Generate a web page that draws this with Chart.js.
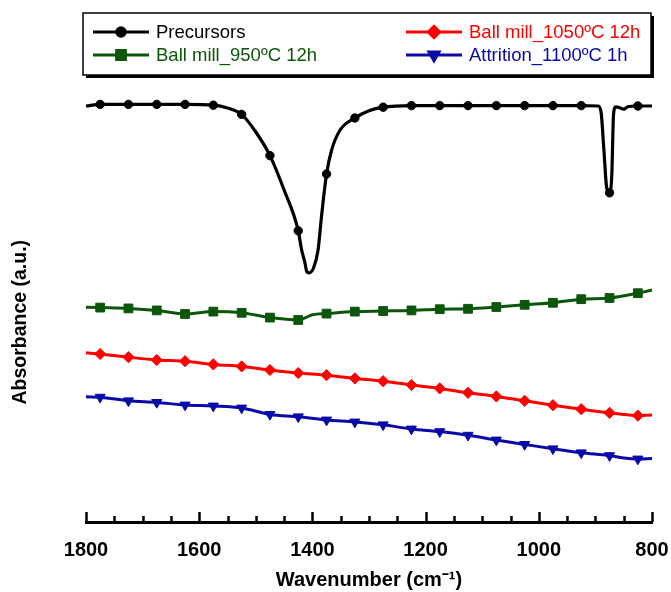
<!DOCTYPE html>
<html>
<head>
<meta charset="utf-8">
<script src="https://cdn.jsdelivr.net/npm/chart.js@4.4.1/dist/chart.umd.min.js"></script>
<style>
  html, body { margin: 0; padding: 0; background: #fff; }
  #wrap { width: 671px; height: 592px; }
</style>
</head>
<body>
<div id="wrap"><canvas id="ftir" width="671" height="592"></canvas></div>
<script>
// ── FTIR spectra (absorbance in arbitrary units) ───────────────────────────────
const precursorWn  = [1800,1775,1725,1675,1625,1575,1550,1525,1500,1475,1450,1425,1419,1413,1410,1406,1398,1390,1384,1375,1366,1351,1325,1300,1275,1225,1175,1125,1075,1025,975,925,895,890,885,880,875,871,868,864,856,850,843,825,800];
const precursorAbs = [104.0,104.4,104.4,104.4,104.4,104.2,103.5,101.9,97.5,91.6,83.0,72.8,68.0,64.7,62.6,62.3,63.5,68.0,76.3,87.0,93.0,98.0,101.0,102.8,103.7,104.1,104.1,104.1,104.1,104.1,104.1,104.1,104.0,102.5,93.0,83.5,82.3,86.8,101.8,103.8,103.5,103.2,103.8,104.0,104.0];

const bm950Wn  = [1800,1775,1725,1675,1625,1575,1525,1475,1425,1400,1375,1325,1275,1225,1175,1125,1075,1025,975,925,875,825,800];
const bm950Abs = [53.7,53.6,53.4,52.9,52.0,52.6,52.3,51.1,50.5,51.8,52.1,52.6,52.75,52.9,53.2,53.3,53.75,54.3,54.8,55.7,56.0,57.2,58.0];

const bm1050Wn  = [1800,1775,1725,1675,1625,1575,1525,1475,1425,1375,1325,1275,1225,1175,1125,1075,1025,975,925,875,825,800];
const bm1050Abs = [42.3,42.0,41.2,40.5,40.2,39.4,38.9,38.0,37.25,36.7,35.9,35.2,34.25,33.4,32.3,31.4,30.3,29.2,28.2,27.3,26.6,26.75];

const attritionWn  = [1800,1775,1725,1675,1625,1575,1525,1475,1425,1375,1325,1275,1225,1175,1125,1075,1025,975,925,875,850,825,800];
const attritionAbs = [31.3,31.2,30.3,29.9,29.25,29.0,28.5,26.9,26.3,25.5,25.0,24.3,23.25,22.6,21.7,20.5,19.4,18.3,17.3,16.6,16.0,15.75,15.9];

const seriesNames = ['Precursors', 'Ball mill_950ºC 12h', 'Ball mill_1050ºC 12h', 'Attrition_1100ºC 1h'];

const xMin = 800, xMax = 1800, xMajorStep = 200, xMinorStep = 50;
const yMin = 0, yMax = 108;
const markerStart = 1775, markerStep = 50;   // symbols every 50 cm-1

const FONT = "'Liberation Sans', Arial, Helvetica, sans-serif";

const styles = [
  { color: '#000000', style: 'circle',   radius: 4.2, rotation: 0,   width: 3.2 },
  { color: '#0b560b', style: 'rect',     radius: 6.2, rotation: 0,   width: 3   },
  { color: '#ff0000', style: 'rectRot',  radius: 5.6, rotation: 0,   width: 3   },
  { color: '#0a0aa8', style: 'triangle', radius: 5.8, rotation: 180, width: 3   }
];

const toPoints = (xs, ys) => xs.map((x, i) => ({ x: x, y: ys[i] }));
const isMarker = x => (markerStart - x) % markerStep === 0;

const allData = [
  toPoints(precursorWn, precursorAbs),
  toPoints(bm950Wn, bm950Abs),
  toPoints(bm1050Wn, bm1050Abs),
  toPoints(attritionWn, attritionAbs)
];

const datasets = allData.map((pts, i) => {
  const s = styles[i];
  return {
    label: seriesNames[i],
    data: pts,
    borderColor: s.color,
    backgroundColor: s.color,
    borderWidth: s.width,
    cubicInterpolationMode: 'monotone',
    pointStyle: s.style,
    pointRotation: s.rotation,
    pointRadius: ctx => (ctx.raw && isMarker(ctx.raw.x)) ? s.radius : 0,
    pointBorderWidth: 1,
    pointBorderColor: s.color,
    pointBackgroundColor: s.color,
    clip: false
  };
});

// inward tick marks on the wavenumber axis (major + minor)
const inwardTicks = {
  id: 'inwardTicks',
  afterDraw(chart) {
    const sc = chart.scales.x;
    const ctx = chart.ctx;
    const y0 = chart.chartArea.bottom;
    ctx.save();
    ctx.strokeStyle = '#000';
    ctx.lineWidth = 2.5;
    for (let w = xMin; w <= xMax; w += xMinorStep) {
      const px = Math.round(sc.getPixelForValue(w)) + 0.5;
      const len = (w % xMajorStep === 0) ? 10 : 6;
      ctx.beginPath();
      ctx.moveTo(px, y0);
      ctx.lineTo(px, y0 - len);
      ctx.stroke();
    }
    ctx.restore();
  }
};

// boxed legend in two columns, like the original figure
const boxLegend = {
  id: 'boxLegend',
  afterDraw(chart) {
    const ctx = chart.ctx;
    const bx = 83, by = 13, bw = 568, bh = 62;
    ctx.save();
    ctx.fillStyle = '#000';
    ctx.fillRect(bx + 3, by + 3, bw, bh);
    ctx.fillStyle = '#fff';
    ctx.fillRect(bx, by, bw, bh);
    ctx.strokeStyle = '#000';
    ctx.lineWidth = 1.5;
    ctx.strokeRect(bx, by, bw, bh);

    const slots = [
      { col: 0, row: 0 }, { col: 0, row: 1 },
      { col: 1, row: 0 }, { col: 1, row: 1 }
    ];
    const colX = [93, 406];
    const rowY = [32, 55];
    ctx.font = '18.5px ' + FONT;
    ctx.textBaseline = 'middle';
    ctx.textAlign = 'left';
    seriesNames.forEach((name, i) => {
      const s = styles[i];
      const x = colX[slots[i].col], y = rowY[slots[i].row];
      ctx.strokeStyle = s.color;
      ctx.fillStyle = s.color;
      ctx.lineWidth = 3;
      ctx.beginPath();
      ctx.moveTo(x, y);
      ctx.lineTo(x + 56, y);
      ctx.stroke();
      Chart.helpers.drawPoint(ctx, {
        pointStyle: s.style, radius: s.radius, rotation: s.rotation, borderWidth: 1
      }, x + 28, y);
      ctx.fillText(name, x + 63, y + 1);
    });
    ctx.restore();
  }
};

new Chart(document.getElementById('ftir'), {
  type: 'line',
  data: { datasets: datasets },
  options: {
    responsive: false,
    animation: false,
    events: [],
    layout: { padding: { top: 90, right: 19, bottom: 0, left: 0 } },
    plugins: {
      legend: { display: false },
      tooltip: { enabled: false }
    },
    scales: {
      x: {
        type: 'linear',
        reverse: true,
        min: xMin,
        max: xMax,
        grid: { display: false, drawTicks: false },
        border: { display: true, color: '#000', width: 3 },
        ticks: {
          stepSize: xMajorStep,
          color: '#000',
          padding: 16,
          maxRotation: 0,
          callback: v => String(v),
          font: { family: FONT, size: 20, weight: 'bold', lineHeight: 1.2 }
        },
        title: {
          display: true,
          text: 'Wavenumber (cm⁻¹)',
          color: '#000',
          padding: { top: 6, bottom: 0 },
          font: { family: FONT, size: 20, weight: 'bold', lineHeight: 1.2 }
        },
        afterFit: scale => {
          scale.height = 70;
          scale.paddingLeft = 0;
          scale.paddingRight = 0;
        }
      },
      y: {
        min: yMin,
        max: yMax,
        grid: { display: false, drawTicks: false },
        border: { display: false },
        ticks: { display: false },
        title: {
          display: true,
          // trailing spaces keep the label centred lower, as in the source figure
          text: 'Absorbance (a.u.)      ',
          color: '#000',
          padding: { top: 9, bottom: 0 },
          font: { family: FONT, size: 19.5, weight: 'bold', lineHeight: 1.2 }
        },
        afterFit: scale => { scale.width = 86; }
      }
    }
  },
  plugins: [inwardTicks, boxLegend]
});
</script>
</body>
</html>
